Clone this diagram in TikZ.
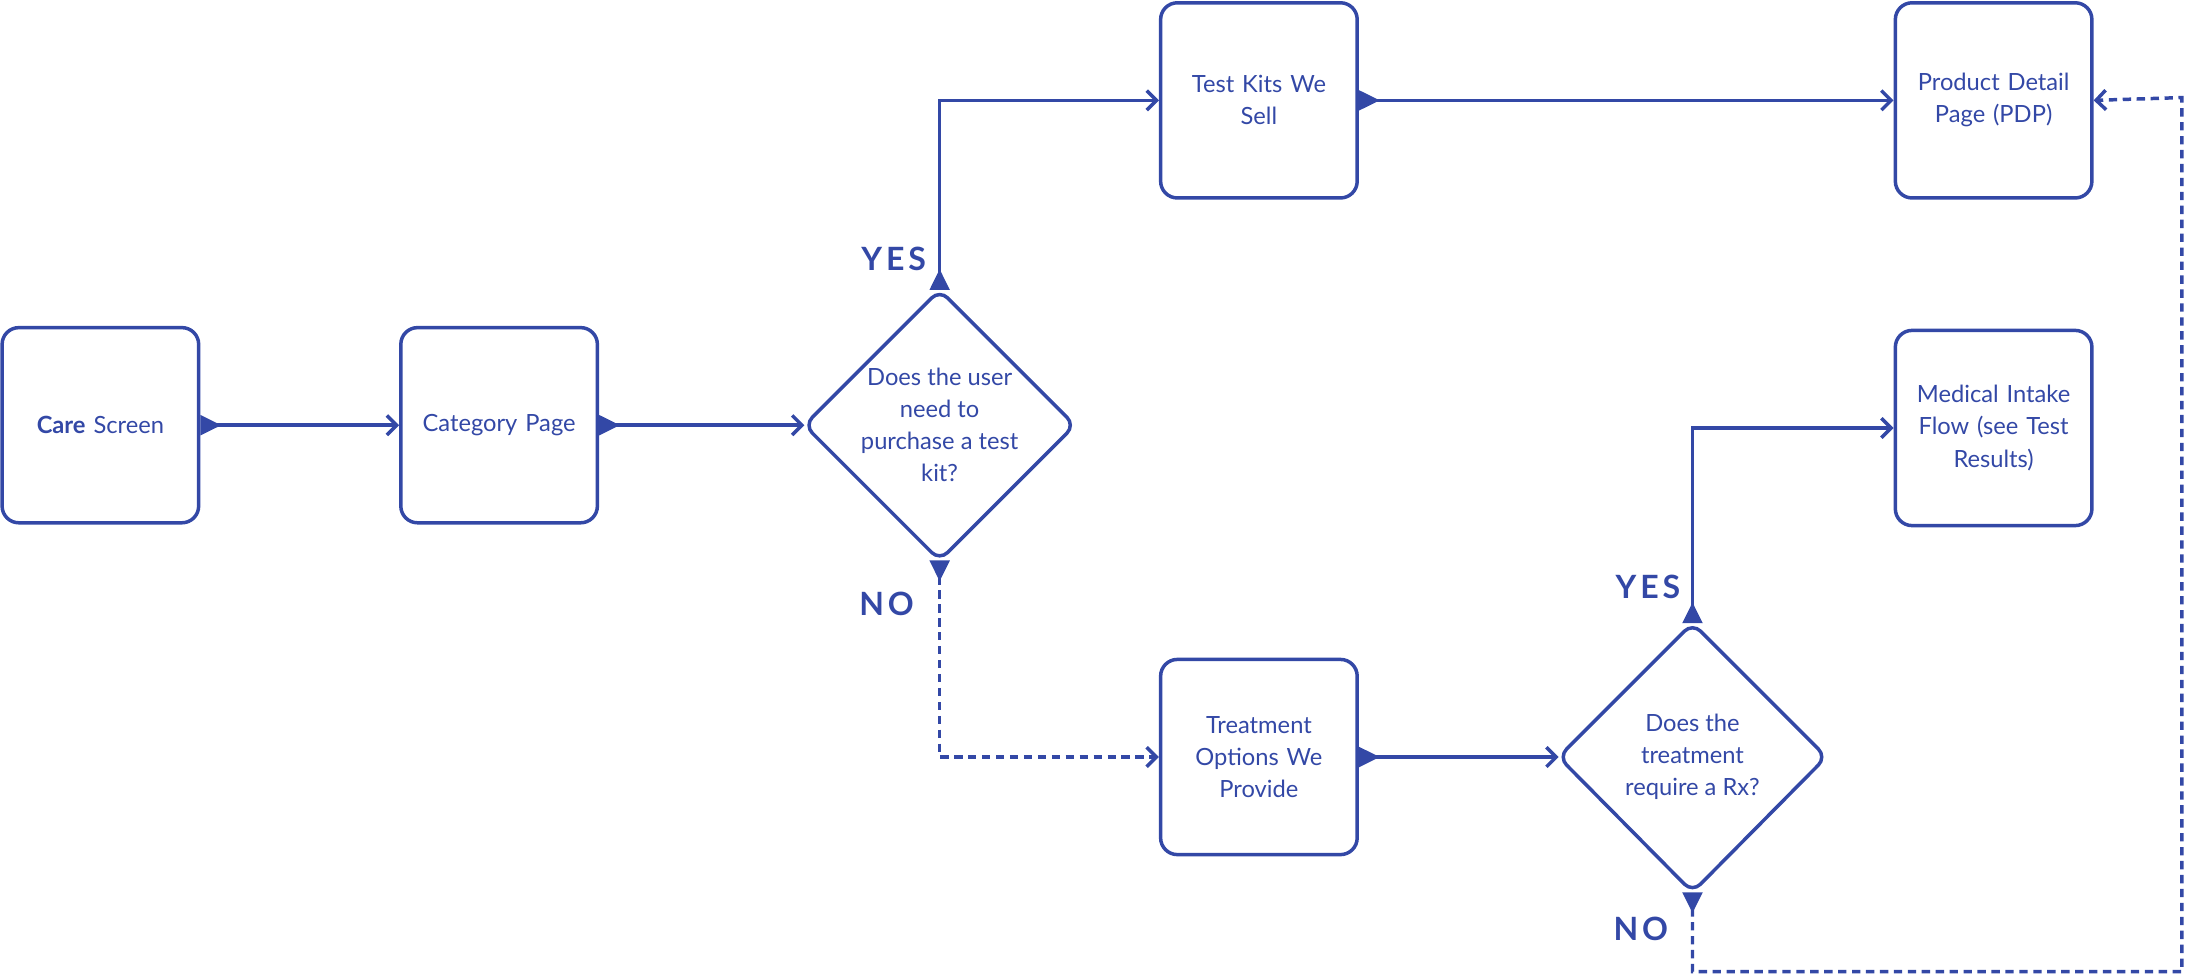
\documentclass[tikz,border=0pt]{standalone}
\usepackage{fontspec}
\setmainfont{Lato}
\usetikzlibrary{arrows.meta}
\definecolor{fc}{HTML}{3348A6}
\begin{document}
\begin{tikzpicture}[x=1pt,y=-1pt,
  box/.style={draw=fc,line width=2.5pt,rounded corners=12pt,minimum width=141pt,minimum height=140pt,inner sep=0pt,text=fc,align=center,text width=125pt,font=\fontsize{17}{23}\selectfont},
  dtext/.style={text=fc,align=center,font=\fontsize{17}{23}\selectfont},
  dia/.style={draw=fc,line width=2.5pt,rounded corners=8pt},
  conn/.style={draw=fc,line width=2.5pt,{Triangle[reversed,length=15pt,width=14pt]}-{Straight Barb[length=7pt,width=14pt]}},
  dconn/.style={conn,dash pattern=on 6pt off 4pt},
  lab/.style={text=fc,font=\fontsize{23}{23}\selectfont\bfseries\addfontfeature{LetterSpace=12}}]
\useasboundingbox (0,0) rectangle (1568,700);
\node[box] (care) at (72,305) {\textbf{Care} Screen};
\node[box] (cat) at (358,305) {Category Page};
\node[box] (test) at (903,72) {Test Kits We\\Sell};
\node[box] (pdp) at (1430,72) {Product Detail\\Page (PDP)};
\node[box] (med) at (1430,307) {Medical Intake\\Flow (see Test\\Results)};
\node[box] (treat) at (903,543) {Treatment\\Options We\\Provide};
\node[dtext] (d1) at (674,305) {Does the user\\need to\\purchase a test\\kit?};
\coordinate (d1t) at (674,208); \coordinate (d1b) at (674,402);
\coordinate (d1l) at (577,305); \coordinate (d1r) at (771,305);
\draw[dia] (d1t) -- (d1r) -- (d1b) -- (d1l) -- cycle;
\node[dtext] (d2) at (1214,543) {Does the\\treatment\\require a Rx?};
\coordinate (d2t) at (1214,447); \coordinate (d2b) at (1214,640);
\coordinate (d2l) at (1118,543); \coordinate (d2r) at (1310,543);
\draw[dia] (d2t) -- (d2r) -- (d2b) -- (d2l) -- cycle;
\coordinate (c1) at (1214,697); \coordinate (c2) at (1565,697); \coordinate (c3) at (1565,70);
\draw[conn] (care.east) -- (cat.west);
\draw[conn] (cat.east) -- (d1l);
\draw[conn] (d1t) |- (test.west);
\draw[dconn] (d1b) |- (treat.west);
\draw[conn] (test.east) -- (pdp.west);
\draw[conn] (treat.east) -- (d2l);
\draw[conn] (d2t) |- (med.west);
\draw[dconn] (d2b) -- (c1) -- (c2) -- (c3) -- (pdp.east);
\node[lab] (y1) at (641,186) {YES};
\node[lab] (n1) at (636,433) {NO};
\node[lab] (y2) at (1182,421) {YES};
\node[lab] (n2) at (1177,666) {NO};
\end{tikzpicture}
\end{document}
